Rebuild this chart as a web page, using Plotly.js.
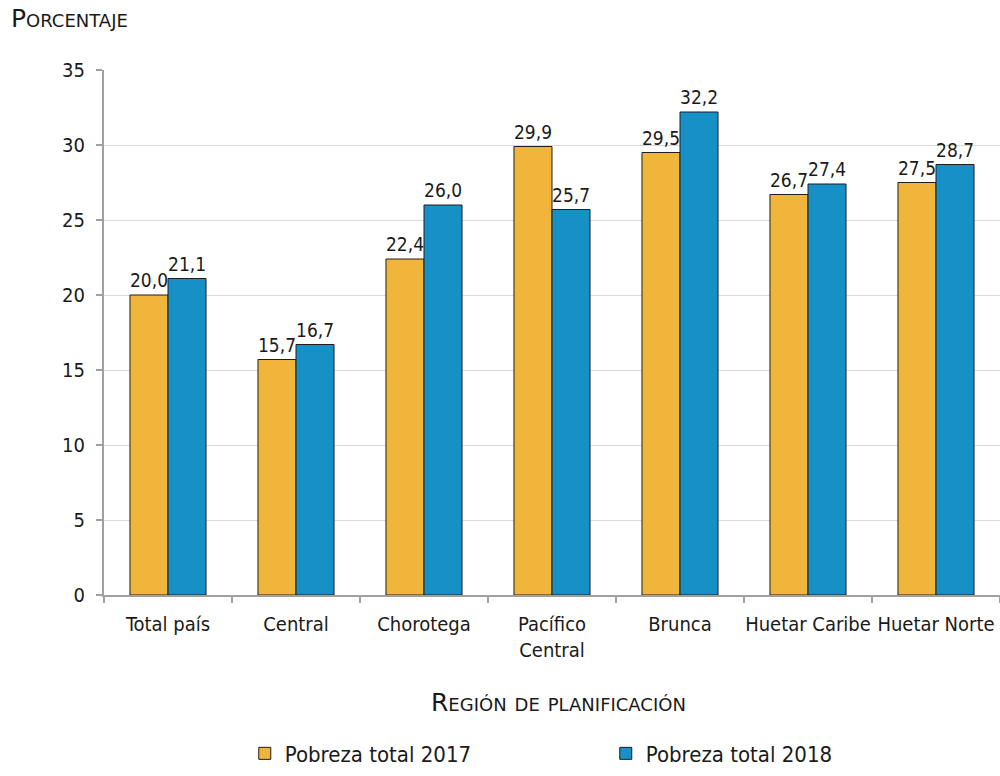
<!DOCTYPE html>
<html><head><meta charset="utf-8">
<script src="https://cdn.plot.ly/plotly-3.0.1.min.js"></script>
<style>body{margin:0}#c{width:1000px;height:776px}</style>
</head><body><div id="c"></div>
<script>
const categories = ["Total país", "Central", "Chorotega", "Pacífico<br>Central", "Brunca", "Huetar Caribe", "Huetar Norte"];
const pobreza2017 = [20.0, 15.7, 22.4, 29.9, 29.5, 26.7, 27.5];
const pobreza2018 = [21.1, 16.7, 26.0, 25.7, 32.2, 27.4, 28.7];
const seriesNames = ["Pobreza total 2017", "Pobreza total 2018"];
const yTicks = [0, 5, 10, 15, 20, 25, 30, 35];

const FONT = "DejaVu Sans Condensed, sans-serif";
const TFONT = "DejaVu Sans, sans-serif";
const fmt = v => v.toFixed(1).replace(".", ",");

const mk = (vals, name, color) => ({
  type: "bar", x: categories, y: vals, name: name,
  marker: {color: color, line: {color: "#1e1e1e", width: 1}},
  text: vals.map(fmt), textposition: "outside", cliponaxis: false,
  textfont: {family: FONT, size: 21, color: "#1a1a1a"}
});

const data = [mk(pobreza2017, seriesNames[0], "#F2B53B"), mk(pobreza2018, seriesNames[1], "#1790C8")];

const layout = {
  width: 1000, height: 776,
  margin: {l: 104, r: 0, t: 70, b: 181},
  paper_bgcolor: "#fff", plot_bgcolor: "#fff",
  font: {family: FONT, size: 20, color: "#1a1a1a"},
  barmode: "group", bargap: 0.406, bargroupgap: 0,
  showlegend: true,
  legend: {orientation: "h", x: 0.56, xanchor: "center", y: -0.302, yanchor: "middle",
           font: {family: FONT, size: 22}, itemwidth: 30, tracegroupgap: 0, entrywidthmode: "pixels", entrywidth: 316},
  xaxis: {
    type: "category", showline: true, linecolor: "#a0a0a0", linewidth: 2, automargin: false,
    ticks: "outside", tickson: "boundaries", ticklen: 6, tickcolor: "#a0a0a0", tickwidth: 2,
    tickfont: {family: FONT, size: 20}, tickangle: 0, showgrid: false, ticklabelstandoff: 10
  },
  yaxis: {
    range: [0, 35], tickvals: yTicks, ticktext: yTicks.map(String), automargin: false,
    showline: true, linecolor: "#a0a0a0", linewidth: 2,
    ticks: "outside", ticklen: 6, tickcolor: "#a0a0a0", tickwidth: 2,
    showgrid: true, gridcolor: "#d9d9d9", gridwidth: 1, zeroline: false,
    tickfont: {family: FONT, size: 20}, ticklabelstandoff: 7
  },
  annotations: [{
    text: "Porcentaje", xref: "paper", yref: "paper", x: -0.106, y: 1.098, xanchor: "left", yanchor: "middle",
    showarrow: false, font: {family: TFONT, size: 25, variant: "small-caps"}
  }, {
    text: "Región de planificación", xref: "paper", yref: "paper", x: 0.507, y: -0.204, xanchor: "center", yanchor: "middle",
    showarrow: false, font: {family: TFONT, size: 25, variant: "small-caps"}
  }]
};
Plotly.newPlot("c", data, layout, {displayModeBar: false});
</script></body></html>
